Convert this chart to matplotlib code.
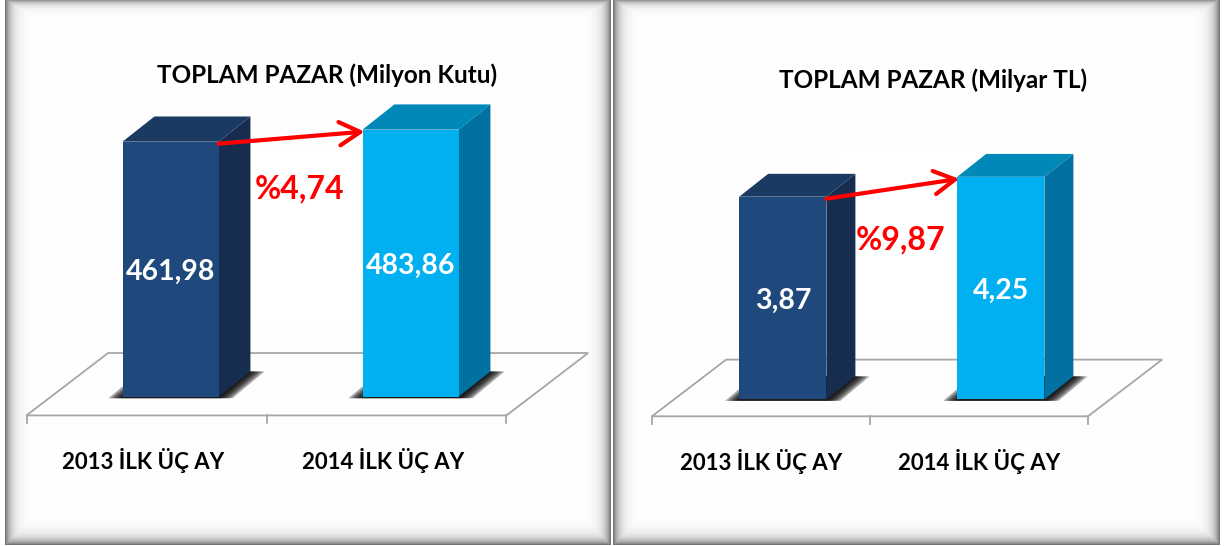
import numpy as np
import matplotlib
matplotlib.use('Agg')
import matplotlib.pyplot as plt
from matplotlib.patches import Polygon

# chart data
categories = ['2013 İLK ÜÇ AY', '2014 İLK ÜÇ AY']
kutu_values = [461.98, 483.86]
kutu_labels = ['461,98', '483,86']
kutu_change = '%4,74'
tl_values = [3.87, 4.25]
tl_labels = ['3,87', '4,25']
tl_change = '%9,87'
titles = ['TOPLAM PAZAR (Milyon Kutu)', 'TOPLAM PAZAR (Milyar TL)']

W, H = 1224, 546
plt.rcParams['font.family'] = ['Lato', 'DejaVu Sans']

front_colors = ['#1F497D', '#00B0F0']
top_colors = ['#1A3A62', '#0088B8']
side_colors = ['#162D50', '#0071A0']
floor_color = '#A6A6A6'

fig = plt.figure(figsize=(W / 100, H / 100), dpi=100)

# background: two framed panels with an inner shadow
bg = fig.add_axes([0, 0, 1, 1])
img = np.ones((H, W, 3))
yy, xx = np.mgrid[0:H, 0:W]
yy = yy + 0.5
xx = xx + 0.5
for x0, x1 in [(5, 611), (613, 1220)]:
    y0, y1 = -1, 545
    inside = (xx >= x0) & (xx < x1) & (yy >= y0) & (yy < y1)
    dark = np.maximum.reduce([np.exp(-(xx - x0) / 6), np.exp(-(x1 - xx) / 6),
                              np.exp(-(yy - y0) / 4), np.exp(-(y1 - yy) / 6)])
    shade = 1 - 0.58 * dark
    img[inside] = shade[inside][:, None]
bg.imshow(img, extent=(0, W, H, 0), aspect='auto', interpolation='nearest')
bg.set_xlim(0, W)
bg.set_ylim(H, 0)
bg.axis('off')


def draw_panel(px0, c0, cw, base, vs, values, labels, change, title, title_pos, cat_shift):
    ax = fig.add_axes([px0 / W, 0, 612 / W, 1])
    ax.set_xlim((px0 - c0) / cw, (px0 + 612 - c0) / cw)
    ax.set_ylim(-(H - base) / vs, base / vs)
    ax.axis('off')
    kx = 1 / cw   # data units per pixel
    ky = 1 / vs

    # floor
    fy = -0.078 * cw * ky
    fdx, fdy = 0.34, 0.26 * cw * ky
    floor = [(-0.5, fy), (1.5, fy), (1.5 + fdx, fy + fdy), (-0.5 + fdx, fy + fdy)]
    ax.add_patch(Polygon(floor, closed=True, fill=False, ec=floor_color, lw=1.3))
    for t in (-0.5, 0.5, 1.5):
        ax.plot([t, t], [fy, fy - 8 * ky], color=floor_color, lw=1.3)

    ddx, ddy = 0.133, 0.105 * cw * ky
    half = 0.2
    for i, v in enumerate(values):
        xl, xr = i + 0.1 - half, i + 0.1 + half
        # soft shadow under the bar
        for e in [14, 11, 8, 5, 2]:
            sh = [(xl - e * kx, -1.5 * ky), (xr + e * kx, -1.5 * ky),
                  (xr + ddx + e * kx, ddy), (xl + ddx - e * kx, ddy)]
            ax.add_patch(Polygon(sh, closed=True, fc='black', ec='none', alpha=0.35))
        side = [(xr, 0), (xr + ddx, ddy), (xr + ddx, v + ddy), (xr, v)]
        top = [(xl, v), (xr, v), (xr + ddx, v + ddy), (xl + ddx, v + ddy)]
        front = [(xl, 0), (xr, 0), (xr, v), (xl, v)]
        ax.add_patch(Polygon(side, closed=True, fc=side_colors[i], ec='none'))
        ax.add_patch(Polygon(top, closed=True, fc=top_colors[i], ec='none'))
        ax.add_patch(Polygon(front, closed=True, fc=front_colors[i], ec='none'))
        ax.text(i + 0.1, v / 2, labels[i], color='white', fontsize=20.5,
                fontweight='bold', ha='center', va='center_baseline')
        ax.text(i + cat_shift * kx, fy - 43 * ky, categories[i], color='black',
                fontsize=16, fontweight='bold', ha='center', va='center_baseline')

    # growth arrow
    xs, ys = 0.1 + half, values[0] - 2 * ky
    xe, ye = 1.1 - half + 2 * kx, values[1] - 2 * ky
    ax.annotate('', xy=(xe, ye), xytext=(xs, ys),
                arrowprops=dict(arrowstyle='->,head_length=0.75,head_width=0.42',
                                color='#FF0000', lw=3, mutation_scale=20,
                                shrinkA=0, shrinkB=0))
    ax.text((xs + xe) / 2 + 8 * kx, (ys + ye) / 2 - 49 * ky, change, color='#FF0000',
            fontsize=23, fontweight='bold', ha='center', va='center_baseline')
    ax.text(title_pos[0], title_pos[1], title, transform=ax.transAxes, color='black',
            fontsize=17.5, fontweight='bold', ha='center', va='center_baseline')
    return ax


draw_panel(0, 146.5, 240, 396.7, 0.552, kutu_values, kutu_labels, kutu_change,
           titles[0], (327.5 / 612, 1 - 73.3 / H), -3.5)
draw_panel(612, 761, 218, 399.3, 52.35, tl_values, tl_labels, tl_change,
           titles[1], ((933 - 612) / 612, 1 - 78.3 / H), 0)

fig.savefig('out.png', dpi=100)
